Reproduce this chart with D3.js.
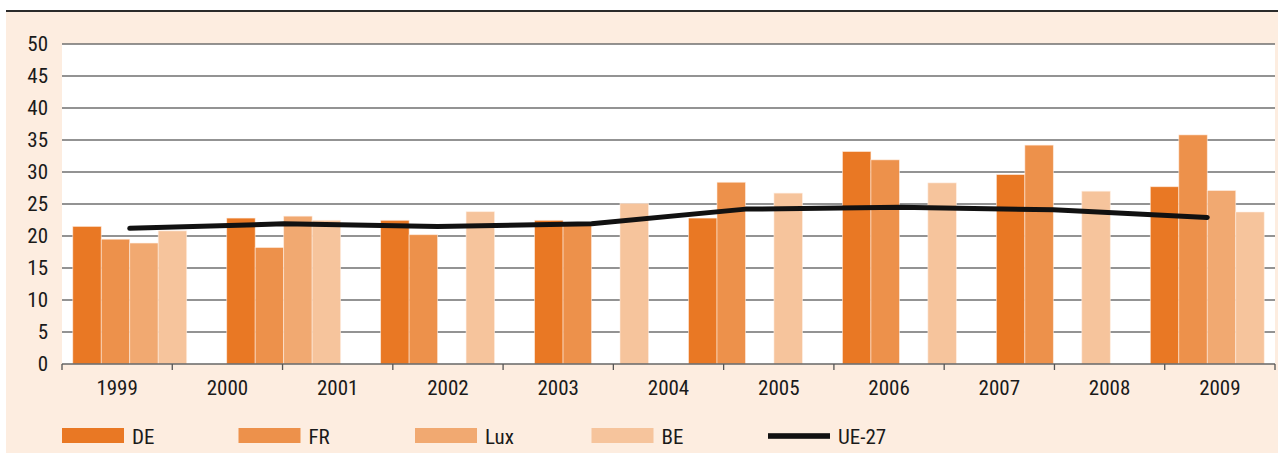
<!DOCTYPE html>
<html>
<head>
<meta charset="utf-8">
<script src="https://cdn.jsdelivr.net/npm/d3@7"></script>
<style>
  html, body { margin: 0; padding: 0; background: #ffffff; }
  svg { display: block; }
  text { font-family: "Liberation Sans Narrow", "Arial Narrow", "Roboto Condensed", sans-serif; fill: #1a1a1a; }
</style>
</head>
<body>
<svg id="chart" width="1278" height="454"></svg>
<script>
// Axis year labels
const yearLabels = ["1999", "2000", "2001", "2002", "2003", "2004", "2005", "2006", "2007", "2008", "2009"];
// Bar groups (one per data period)
const periods = [0, 1, 2, 3, 4, 5, 6, 7];
// Series values per period (null = no value)
const de   = [21.5, 22.8, 22.45, 22.45, 22.8, 33.2, 29.6, 27.7];
const fr   = [19.5, 18.2, 20.2, 21.9, 28.4, 31.9, 34.2, 35.8];
const lux  = [18.9, 23.1, null, null, null, null, null, 27.1];
const be   = [20.8, 22.45, 23.8, 25.1, 26.7, 28.3, 27.0, 23.75];
const ue27 = [21.2, 21.9, 21.5, 21.9, 24.2, 24.5, 24.1, 22.9];
// Y ticks
const yTicks = [0, 5, 10, 15, 20, 25, 30, 35, 40, 45, 50];
// Series names and colours
const barSeries = ["DE", "FR", "Lux", "BE"];
const barValues = [de, fr, lux, be];
const barColors = ["#e97824", "#ed914b", "#f1a971", "#f6c49c"];

const W = 1278, H = 454;
const plot = { left: 62, right: 1275, top: 44, bottom: 364 };

const svg = d3.select("#chart");

// Background panel and top rule
svg.append("rect").attr("x", 6).attr("y", 12).attr("width", W - 6).attr("height", 441).attr("fill", "#fdede0");
svg.append("line").attr("x1", 6).attr("x2", W).attr("y1", 11).attr("y2", 11)
  .attr("stroke", "#2b2b2b").attr("stroke-width", 2);

// Plot area
svg.append("rect").attr("x", plot.left).attr("y", plot.top)
  .attr("width", plot.right - plot.left).attr("height", plot.bottom - plot.top).attr("fill", "#ffffff");

const y = d3.scaleLinear().domain([0, 50]).range([plot.bottom, plot.top]);
const xYears = d3.scaleBand().domain(yearLabels).range([plot.left, plot.right]);
const xGroup = d3.scalePoint().domain(periods).range([plot.left, plot.right]).padding(0.44);
const xInner = d3.scaleBand().domain(barSeries).range([0, xGroup.step() * 0.74]);

// Horizontal grid lines
svg.append("g").selectAll("line").data(yTicks.filter(d => d > 0)).join("line")
  .attr("x1", plot.left).attr("x2", plot.right)
  .attr("y1", d => y(d)).attr("y2", d => y(d))
  .attr("stroke", "#6f6f6f").attr("stroke-width", 1.4);

// Y axis labels
const yAxis = d3.axisLeft(y).tickValues(yTicks).tickSize(0).tickPadding(14);
const gy = svg.append("g").attr("transform", `translate(${plot.left},0)`).call(yAxis);
gy.select(".domain").remove();
gy.selectAll("text").style("font-size", "21px").attr("fill", "#1a1a1a");

// Bars
const groupOffset = xInner.range()[1] / 2;
barSeries.forEach((name, si) => {
  const vals = barValues[si];
  svg.append("g").selectAll("rect")
    .data(periods.filter(p => vals[p] != null))
    .join("rect")
    .attr("x", p => xGroup(p) - groupOffset + xInner(name))
    .attr("width", xInner.bandwidth())
    .attr("y", p => y(vals[p]))
    .attr("height", p => y(0) - y(vals[p]))
    .attr("fill", barColors[si])
    .attr("stroke", "rgba(255,240,228,0.7)")
    .attr("stroke-width", 0.8);
});

// X axis line, boundary ticks and year labels
svg.append("line").attr("x1", plot.left).attr("x2", plot.right)
  .attr("y1", plot.bottom).attr("y2", plot.bottom)
  .attr("stroke", "#666").attr("stroke-width", 1.5);
const bounds = yearLabels.map(d => xYears(d)).concat([plot.right]);
svg.append("g").selectAll("line").data(bounds).join("line")
  .attr("x1", d => d).attr("x2", d => d)
  .attr("y1", plot.bottom).attr("y2", plot.bottom + 6)
  .attr("stroke", "#555").attr("stroke-width", 1.3);
svg.append("g").selectAll("text").data(yearLabels).join("text")
  .attr("x", d => xYears(d) + xYears.bandwidth() / 2)
  .attr("y", 395)
  .attr("text-anchor", "middle")
  .style("font-size", "21px")
  .text(d => d);

// UE-27 line
const line = d3.line().x((d, i) => xGroup(periods[i])).y(d => y(d));
svg.append("path").datum(ue27).attr("d", line)
  .attr("fill", "none").attr("stroke", "#111").attr("stroke-width", 5)
  .attr("stroke-linecap", "round").attr("stroke-linejoin", "round");

// Legend
const legendItems = barSeries.map((s, i) => ({ name: s, color: barColors[i], type: "bar" }))
  .concat([{ name: "UE-27", color: "#111", type: "line" }]);
const lg = svg.append("g").selectAll("g").data(legendItems).join("g")
  .attr("transform", (d, i) => `translate(${62 + i * 176.5},428)`);
lg.filter(d => d.type === "bar").append("rect")
  .attr("width", 62).attr("height", 15).attr("fill", d => d.color);
lg.filter(d => d.type === "line").append("rect")
  .attr("y", 5.2).attr("width", 62).attr("height", 5.6).attr("fill", d => d.color);
lg.append("text").attr("x", 70).attr("y", 16).style("font-size", "21px").text(d => d.name);
</script>
</body>
</html>
